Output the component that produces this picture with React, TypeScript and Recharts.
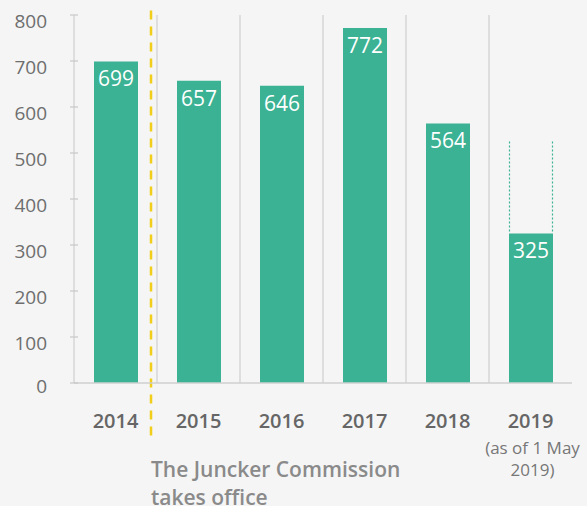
import React from 'react';
import { BarChart, Bar, XAxis, YAxis, ReferenceLine, LabelList } from 'recharts';

const years = ['2014', '2015', '2016', '2017', '2018', '2019'];
const counts = [699, 657, 646, 772, 564, 325];
// dotted outline on top of 2019 (expected level)
const pending = [0, 0, 0, 0, 0, 200];
const yTicks = [0, 100, 200, 300, 400, 500, 600, 700, 800];
const boundaryYears = ['2015', '2016', '2017', '2018', '2019'];

const data = years.map((year, i) => ({ year, count: counts[i], pending: pending[i] }));

const FONT = '"Open Sans", "DejaVu Sans", sans-serif';
const TEAL = '#3bb293';

const YTick = (props: any) => {
  const { x, y, payload } = props;
  return (
    <g>
      <line x1={x + 23} x2={x + 31} y1={y} y2={y} stroke="#c8c8c8" strokeWidth={1.2} />
      <text x={x} y={y} dy={payload.value === 0 ? 10 : 13} textAnchor="end" fill="#6e6e6e" fontSize={19} fontFamily={FONT}>
        {payload.value}
      </text>
    </g>
  );
};

const XTick = (props: any) => {
  const { x, y, payload } = props;
  return (
    <g>
      <text x={x} y={y} dy={43} textAnchor="middle" fill="#666" fontSize={20} fontWeight={600} fontFamily={FONT}>
        {payload.value}
      </text>
      {payload.value === '2019' && (
        <text x={x + 2} y={y} textAnchor="middle" fill="#777" fontSize={17} fontFamily={FONT}>
          <tspan x={x + 2} dy={69}>(as of 1 May</tspan>
          <tspan x={x + 2} dy={22}>2019)</tspan>
        </text>
      )}
    </g>
  );
};

const DottedSides = (props: any) => {
  const { x, y, width, height } = props;
  if (!height) return null;
  return (
    <g>
      <line x1={x + 0.5} x2={x + 0.5} y1={y} y2={y + height} stroke={TEAL} strokeWidth={1.2} strokeDasharray="2 2" />
      <line x1={x + width - 0.5} x2={x + width - 0.5} y1={y} y2={y + height} stroke={TEAL} strokeWidth={1.2} strokeDasharray="2 2" />
    </g>
  );
};

// dashed marker drawn slightly left of the 2014/2015 boundary
const JunckerLine = (props: any) => {
  const { x1, y1, x2, y2 } = props;
  return (
    <line x1={x1 - 6} x2={x2 - 6} y1={y1} y2={y2} stroke="#f2cd1a" strokeWidth={2.5} strokeDasharray="9 7" />
  );
};

export default function App() {
  return (
    <div style={{ position: 'absolute', left: 0, top: 0, width: 587, height: 506, background: '#f5f5f5', overflow: 'hidden' }}>
      <BarChart width={587} height={506} data={data} margin={{ top: 15, right: 15, left: 0, bottom: 93 }}>
        <XAxis
          dataKey="year"
          height={30}
          axisLine={{ stroke: '#cfcfcf', strokeWidth: 1.5 }}
          tickLine={false}
          tickSize={0}
          tick={<XTick />}
          interval={0}
        />
        <YAxis
          width={74}
          domain={[0, 800]}
          ticks={yTicks}
          axisLine={{ stroke: '#cfcfcf', strokeWidth: 1.2 }}
          tickLine={false}
          tickSize={0}
          tickMargin={27}
          tick={<YTick />}
          interval={0}
        />
        {boundaryYears.map((b) => (
          <ReferenceLine key={b} x={b} position="start" stroke="#d6d6d6" strokeWidth={1.5} />
        ))}
        <Bar dataKey="count" stackId="a" fill={TEAL} barSize={44} isAnimationActive={false}>
          <LabelList dataKey="count" position="insideTop" offset={10} fill="#fff" fontSize={21} fontFamily={FONT} />
        </Bar>
        <Bar dataKey="pending" stackId="a" barSize={44} shape={<DottedSides />} isAnimationActive={false} />
        <ReferenceLine
          segment={[{ x: '2015', y: 810 }, { x: '2015', y: -120 }]}
          position="start"
          ifOverflow="visible"
          shape={<JunckerLine />}
        />
      </BarChart>
      <div
        style={{
          position: 'absolute',
          left: 151,
          top: 455,
          fontFamily: FONT,
          fontSize: 21,
          lineHeight: '28px',
          color: '#8a8a8a',
          fontWeight: 600,
          whiteSpace: 'nowrap',
        }}
      >
        The Juncker Commission
        <br />
        takes office
      </div>
    </div>
  );
}
